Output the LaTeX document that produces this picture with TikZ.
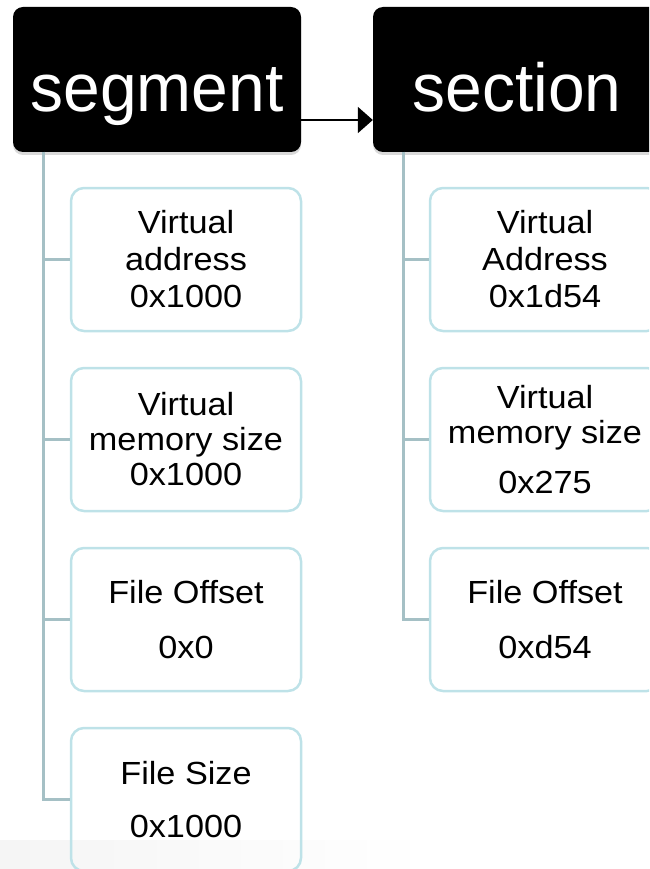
\documentclass[tikz,border=0pt]{standalone}
\usepackage{fontspec}
\setmainfont{Liberation Sans}
\newfontfamily\headfont[FakeStretch=0.97]{Liberation Sans}
\newfontfamily\fieldfont[FakeStretch=1.07]{Liberation Sans}
\usepackage{xcolor}
\usepackage{tikz}
\usetikzlibrary{arrows.meta}
\usetikzlibrary{shadows}
\definecolor{fieldborder}{RGB}{190,226,232}
\definecolor{linkline}{RGB}{165,192,197}
\tikzstyle{head} = [rectangle, rounded corners=10pt, fill=black, text=white, inner sep=0pt, minimum width=288pt, minimum height=145pt, text height=65pt, text depth=0pt, font=\headfont\fontsize{68}{68}\selectfont, drop shadow={shadow xshift=0pt, shadow yshift=-3pt, opacity=0.3}]
\tikzstyle{field} = [rectangle, rounded corners=13pt, draw=fieldborder, line width=2.5pt, minimum width=230pt, minimum height=143pt, align=center, font=\fieldfont\fontsize{32}{37}\selectfont]
\tikzstyle{link} = [draw=linkline, line width=3pt]
\tikzstyle{arrow} = [line width=2pt,-{Triangle[length=15pt,width=26pt]}]

\begin{document}
\begin{tikzpicture}[x=1pt,y=-1pt]
    \clip (0,0) rectangle (649,869);
    \useasboundingbox (0,0) rectangle (649,869);
    \shade[left color=black!4, right color=white] (0,840) rectangle (430,869);

    % headers
    \node[head] (segment) at (157,79.5) {segment};
    \node[head] (section) at (517,79.5) {section};
    \draw[arrow] ([yshift=-40.5pt]segment.east) -- ([yshift=-40.5pt]section.west);

    % segment fields
    \node[field] (segva) at (186,259.5) {Virtual\\address\\0x1000};
    \node[field] (segvms) at (186,439.5) {Virtual\\[-2pt]memory size\\[-2pt]0x1000};
    \node[field] (segoff) at (186,619.5) {File Offset\\[18pt]0x0};
    \node[field] (segsize) at (186,799.5) {File Size\\[16pt]0x1000};

    % section fields
    \node[field] (secva) at (545,259.5) {Virtual\\Address\\0x1d54};
    \node[field] (secvms) at (545,439.5) {Virtual\\[-2pt]memory size\\[13pt]0x275};
    \node[field] (secoff) at (545,619.5) {File Offset\\[18pt]0xd54};

    % tree lines
    \coordinate (segroot) at (43,152);
    \coordinate (secroot) at (403,152);
    \foreach \f in {segva,segvms,segoff,segsize}
        \draw[link] (segroot) |- (\f.west);
    \foreach \f in {secva,secvms,secoff}
        \draw[link] (secroot) |- (\f.west);
\end{tikzpicture}
\end{document}
